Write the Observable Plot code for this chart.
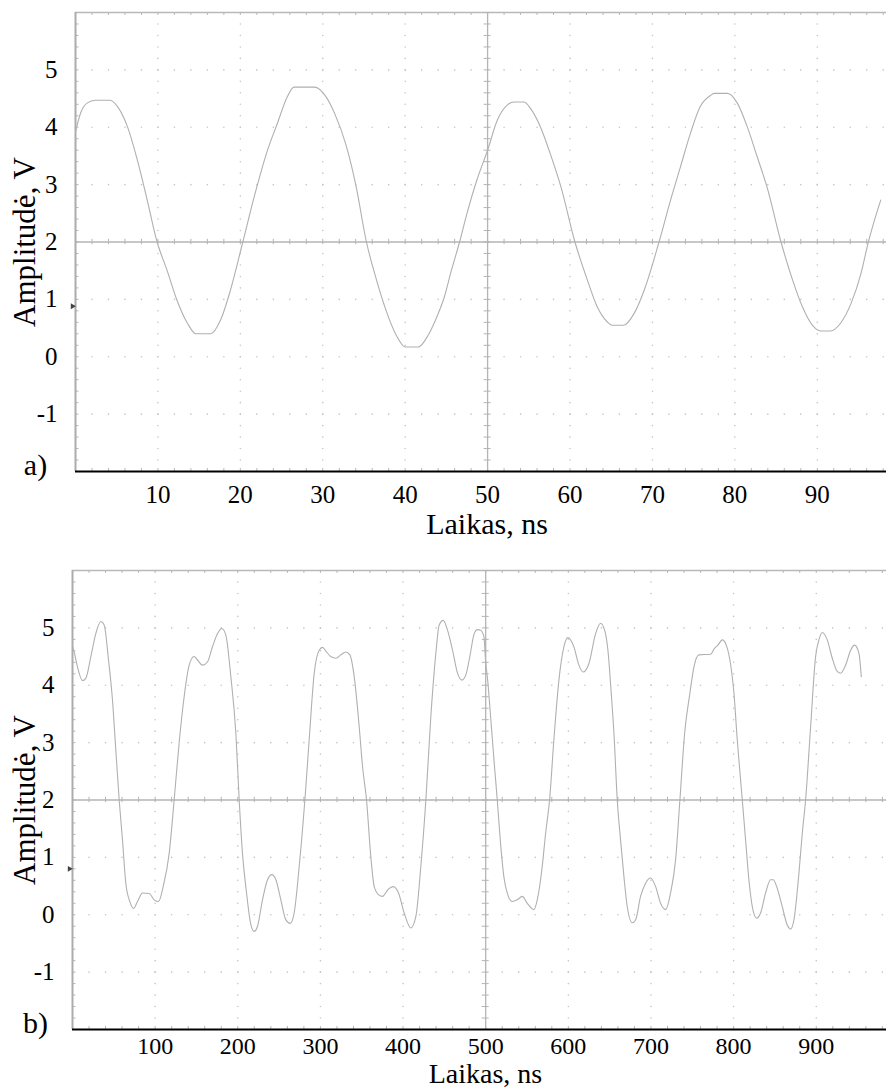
<!DOCTYPE html>
<html><head><meta charset="utf-8">
<script src="https://cdn.jsdelivr.net/npm/d3@7"></script>
<script src="https://cdn.jsdelivr.net/npm/@observablehq/plot@0.6"></script>
<style>
body{margin:0;background:#fff;}
#wrap{width:886px;}
#wrap svg{display:block;}
#wrap svg text{font-family:"Liberation Serif","Times New Roman",Times,serif !important;}
</style></head><body><div id="wrap"></div>
<script>
// ---- data ----
const topTime = [0,0.6,1.4,2.4,4.2,5.1,6.3,7.5,8.7,9.9,11.1,12.3,13.6,14.6,16.4,17.6,18.8,20.3,21.8,23.3,24.5,25.7,26.5,29.0,30.3,31.5,32.8,34.0,35.3,36.5,37.7,38.9,40.0,41.6,42.8,44.0,44.7,45.6,46.6,47.5,48.7,50.0,51.2,52.4,53.2,54.4,55.2,56.4,57.6,58.9,60.6,62.1,63.3,64.5,65.1,66.5,67.8,69.0,70.8,72.2,73.4,74.6,75.8,77.1,77.5,79.1,80.3,81.5,82.7,83.9,85.6,87.0,88.2,89.4,90.4,91.6,92.8,94.1,95.3,96.2,97.7];
const topVolt = [3.92,4.24,4.42,4.47,4.47,4.36,4.01,3.43,2.73,2.0,1.51,0.99,0.58,0.40,0.40,0.64,1.16,2.0,2.85,3.60,4.07,4.53,4.70,4.70,4.55,4.22,3.70,3.00,2.0,1.35,0.80,0.38,0.17,0.17,0.38,0.75,1.02,1.50,2.0,2.50,3.08,3.60,4.13,4.39,4.44,4.44,4.33,4.01,3.54,2.96,2.0,1.34,0.87,0.61,0.55,0.55,0.76,1.16,2.0,2.73,3.31,3.89,4.36,4.56,4.59,4.59,4.42,4.01,3.49,2.96,2.0,1.34,0.87,0.55,0.45,0.45,0.58,0.93,1.45,2.0,2.73];

const bottomTime = [0,2,6,12.1,16.1,22.2,28.2,34.3,38.3,43.6,48.4,52.4,56.5,60.5,64.5,69.4,73.8,78.7,84.7,92.8,98.8,104.1,109.7,117,123,129,135.1,141.2,147.2,151.3,157.3,163.4,169.4,175.5,180.7,185.6,191.6,197.7,201.7,205.7,210.6,215.8,219.8,223.9,229.9,236,241.2,246.1,252.1,258.2,263.4,268.2,274.3,281.2,286.4,292.5,298.5,302.5,307.4,312.6,318.7,324.7,330.8,335.6,340.9,346.9,351,355.8,361,365.1,370.3,375.2,381.2,388.1,394.5,401.4,409.4,415.5,421.5,427.6,433.6,439.7,443.7,448.6,453.8,459.9,465.9,471.2,476,480.8,486.1,490.1,493.8,497.8,499.8,502.7,505.9,510,514,518,522,526,532.1,538.2,544.2,550.3,558.3,562.4,568.4,572.5,577.3,582.5,588.6,594.6,599.5,606.7,612.8,618,624.9,633,639,643.9,647.9,651.9,655.2,659.2,663.2,667.3,671.3,677.3,681.4,687.4,693.5,699.5,705.6,711.6,717.7,723.7,729.8,735,740.7,747.1,752,758,772.1,776.2,781,786.3,791.1,795.5,800.4,804.4,810.5,814.5,818.5,822.6,827.8,832.6,838.7,844.7,848,852.8,858.9,864.9,869,873,879,883.1,887.1,893.2,899.2,903.2,907.3,913.3,919.4,925.4,929.5,935.5,941.6,946.4,951.6,954.5];
const bottomVolt = [4.68,4.58,4.32,4.08,4.12,4.50,4.90,5.11,5.05,4.44,3.74,2.87,2.0,1.30,0.55,0.23,0.11,0.23,0.38,0.37,0.26,0.23,0.49,1.07,2.0,2.99,3.80,4.35,4.50,4.44,4.35,4.41,4.67,4.90,4.99,4.87,4.15,3.16,2.0,1.07,0.38,-0.17,-0.29,-0.20,0.26,0.61,0.70,0.61,0.26,-0.09,-0.15,0.03,0.84,2.0,3.05,4.21,4.61,4.66,4.58,4.50,4.47,4.53,4.58,4.53,4.15,3.28,2.58,2.0,1.01,0.49,0.35,0.32,0.43,0.49,0.38,0.03,-0.23,-0.03,0.84,2.0,3.45,4.56,5.05,5.13,4.96,4.61,4.21,4.09,4.18,4.50,4.90,4.97,4.96,4.85,4.44,4.04,3.46,2.70,2.0,1.24,0.66,0.38,0.23,0.26,0.32,0.20,0.09,0.26,0.84,1.42,2.0,3.05,4.09,4.67,4.83,4.67,4.35,4.23,4.38,4.90,5.08,4.96,4.61,3.86,3.16,2.0,1.30,0.66,0.14,-0.14,-0.09,0.32,0.55,0.64,0.49,0.20,0.09,0.38,0.96,2.0,3.16,3.86,4.32,4.53,4.54,4.63,4.70,4.79,4.70,4.44,3.86,3.05,2.0,1.30,0.61,0.14,-0.06,0.03,0.38,0.61,0.61,0.46,0.14,-0.18,-0.25,-0.09,0.72,1.42,2.0,3.28,4.50,4.79,4.92,4.79,4.47,4.24,4.21,4.35,4.61,4.70,4.56,4.15];

const topXTicks = [10,20,30,40,50,60,70,80,90];
const bottomXTicks = [100,200,300,400,500,600,700,800,900];
const yTicks = [-1,0,1,2,3,4,5];
const yDomain = [-2, 6];
const topXDomain = [0, 98.4];
const bottomXDomain = [0, 985];
const xLabel = "Laikas, ns";
const yLabel = "Amplitudė, V";
const panelTags = ["a)", "b)"];
const markerLevels = [0.88, 0.80];

function panel(o) {
  const W = 886, H = 544;
  const xMax = o.xDomain[1];
  const pxX = (W - o.ml) / xMax;
  const pxY = (H - o.mt - o.mb) / (yDomain[1] - yDomain[0]);
  const minorX = d3.range(0, xMax + 1e-9, o.xMinor);
  const minorY = d3.range(0, 41).map(i => yDomain[0] + i * 0.2);
  const majorY = d3.range(yDomain[0] + 1, yDomain[1]).filter(v => v !== o.yCenter);
  const majorX = d3.range(o.xMajor, xMax, o.xMajor).filter(v => Math.abs(v - o.xCenter) > 1e-9);
  const gridPts = [];
  for (const y of majorY) for (const x of minorX) gridPts.push({x, y});
  for (const x of majorX) for (const y of minorY) gridPts.push({x, y});
  const data = o.time.map((t, i) => ({t, v: o.volt[i]}));
  const tx = 3.5 / pxX, ty = 3 / pxY, cty = 2.7 / pxY;
  const txt = {fill: "black", stroke: null};
  return Plot.plot({
    width: W, height: H,
    marginLeft: o.ml, marginRight: 0, marginTop: o.mt, marginBottom: o.mb,
    style: {fontSize: "25px", color: "black", background: "white", overflow: "visible"},
    x: {domain: o.xDomain, axis: null},
    y: {domain: yDomain, axis: null},
    marks: [
      Plot.dot(gridPts, {x: "x", y: "y", r: 0.8, fill: "#c6c6c6", stroke: null}),
      // borders
      Plot.ruleY([yDomain[1]], {stroke: "#b8b8b8", strokeWidth: 1.5}),
      Plot.ruleX(minorX, {x: d => d, y1: yDomain[1], y2: yDomain[1] - ty, stroke: "#b8b8b8"}),
      Plot.ruleY(minorY, {y: d => d, x1: 0, x2: tx, stroke: "#b8b8b8"}),
      Plot.ruleX(minorX, {x: d => d, y1: yDomain[0], y2: yDomain[0] + ty, stroke: "#b8b8b8"}),
      // centre crosshair
      Plot.ruleY([o.yCenter], {stroke: "#b4b4b4", strokeWidth: 1.3}),
      Plot.ruleX([o.xCenter], {stroke: "#b4b4b4", strokeWidth: 1.3}),
      Plot.ruleX(minorX, {x: d => d, y1: o.yCenter - cty, y2: o.yCenter + cty, stroke: "#b4b4b4"}),
      Plot.ruleY(minorY, {y: d => d, x1: o.xCenter - tx, x2: o.xCenter + tx, stroke: "#b4b4b4"}),
      Plot.ruleX([0], {stroke: "#acacac", strokeWidth: 2}),
      Plot.ruleY([yDomain[0]], {stroke: "black", strokeWidth: 2}),
      // waveform
      Plot.line(data, {x: "t", y: "v", stroke: "#b0b0b0", strokeWidth: 1.1, curve: "monotone-x"}),
      // ground marker
      Plot.dot([o.marker], {x: () => 0, y: d => d, symbol: "triangle", r: 2.2, rotate: 90, dx: -3, fill: "#444", stroke: null}),
      // tick labels
      Plot.text(o.xTicks, {x: d => d, frameAnchor: "bottom", dy: o.xPad, lineAnchor: "top", textAnchor: "middle", text: d => String(d), fontSize: o.xTickSize, ...txt}),
      Plot.text(yTicks, {y: d => d, frameAnchor: "left", dx: -18, lineAnchor: "middle", textAnchor: "end", text: d => String(d), fontSize: 25, ...txt}),
      // titles
      Plot.text([yLabel], {frameAnchor: "left", dx: -(o.ml - 25), rotate: -90, textAnchor: "middle", lineAnchor: "middle", fontSize: 31, ...txt}),
      Plot.text([xLabel], {frameAnchor: "bottom", dx: 6, dy: o.xLabDy, textAnchor: "middle", lineAnchor: "middle", fontSize: o.xLabSize, ...txt}),
      Plot.text([o.tag], {frameAnchor: "bottom-left", dx: -(o.ml - 35), dy: o.tagDy, textAnchor: "middle", lineAnchor: "middle", fontSize: 30, ...txt})
    ]
  });
}

const wrap = document.getElementById("wrap");
wrap.appendChild(panel({time: topTime, volt: topVolt, xDomain: topXDomain, xTicks: topXTicks, xMinor: 2, xMajor: 10, xCenter: 50, yCenter: 2,
  ml: 75, mt: 12, mb: 73, xPad: 14, xTickSize: 25, xLabDy: 53, xLabSize: 30, tag: panelTags[0], tagDy: -6, marker: markerLevels[0]}));
wrap.appendChild(panel({time: bottomTime, volt: bottomVolt, xDomain: bottomXDomain, xTicks: bottomXTicks, xMinor: 20, xMajor: 100, xCenter: 500, yCenter: 2,
  ml: 72, mt: 26, mb: 59, xPad: 7, xTickSize: 24, xLabDy: 45, xLabSize: 28, tag: panelTags[1], tagDy: -6, marker: markerLevels[1]}));
</script></body></html>
